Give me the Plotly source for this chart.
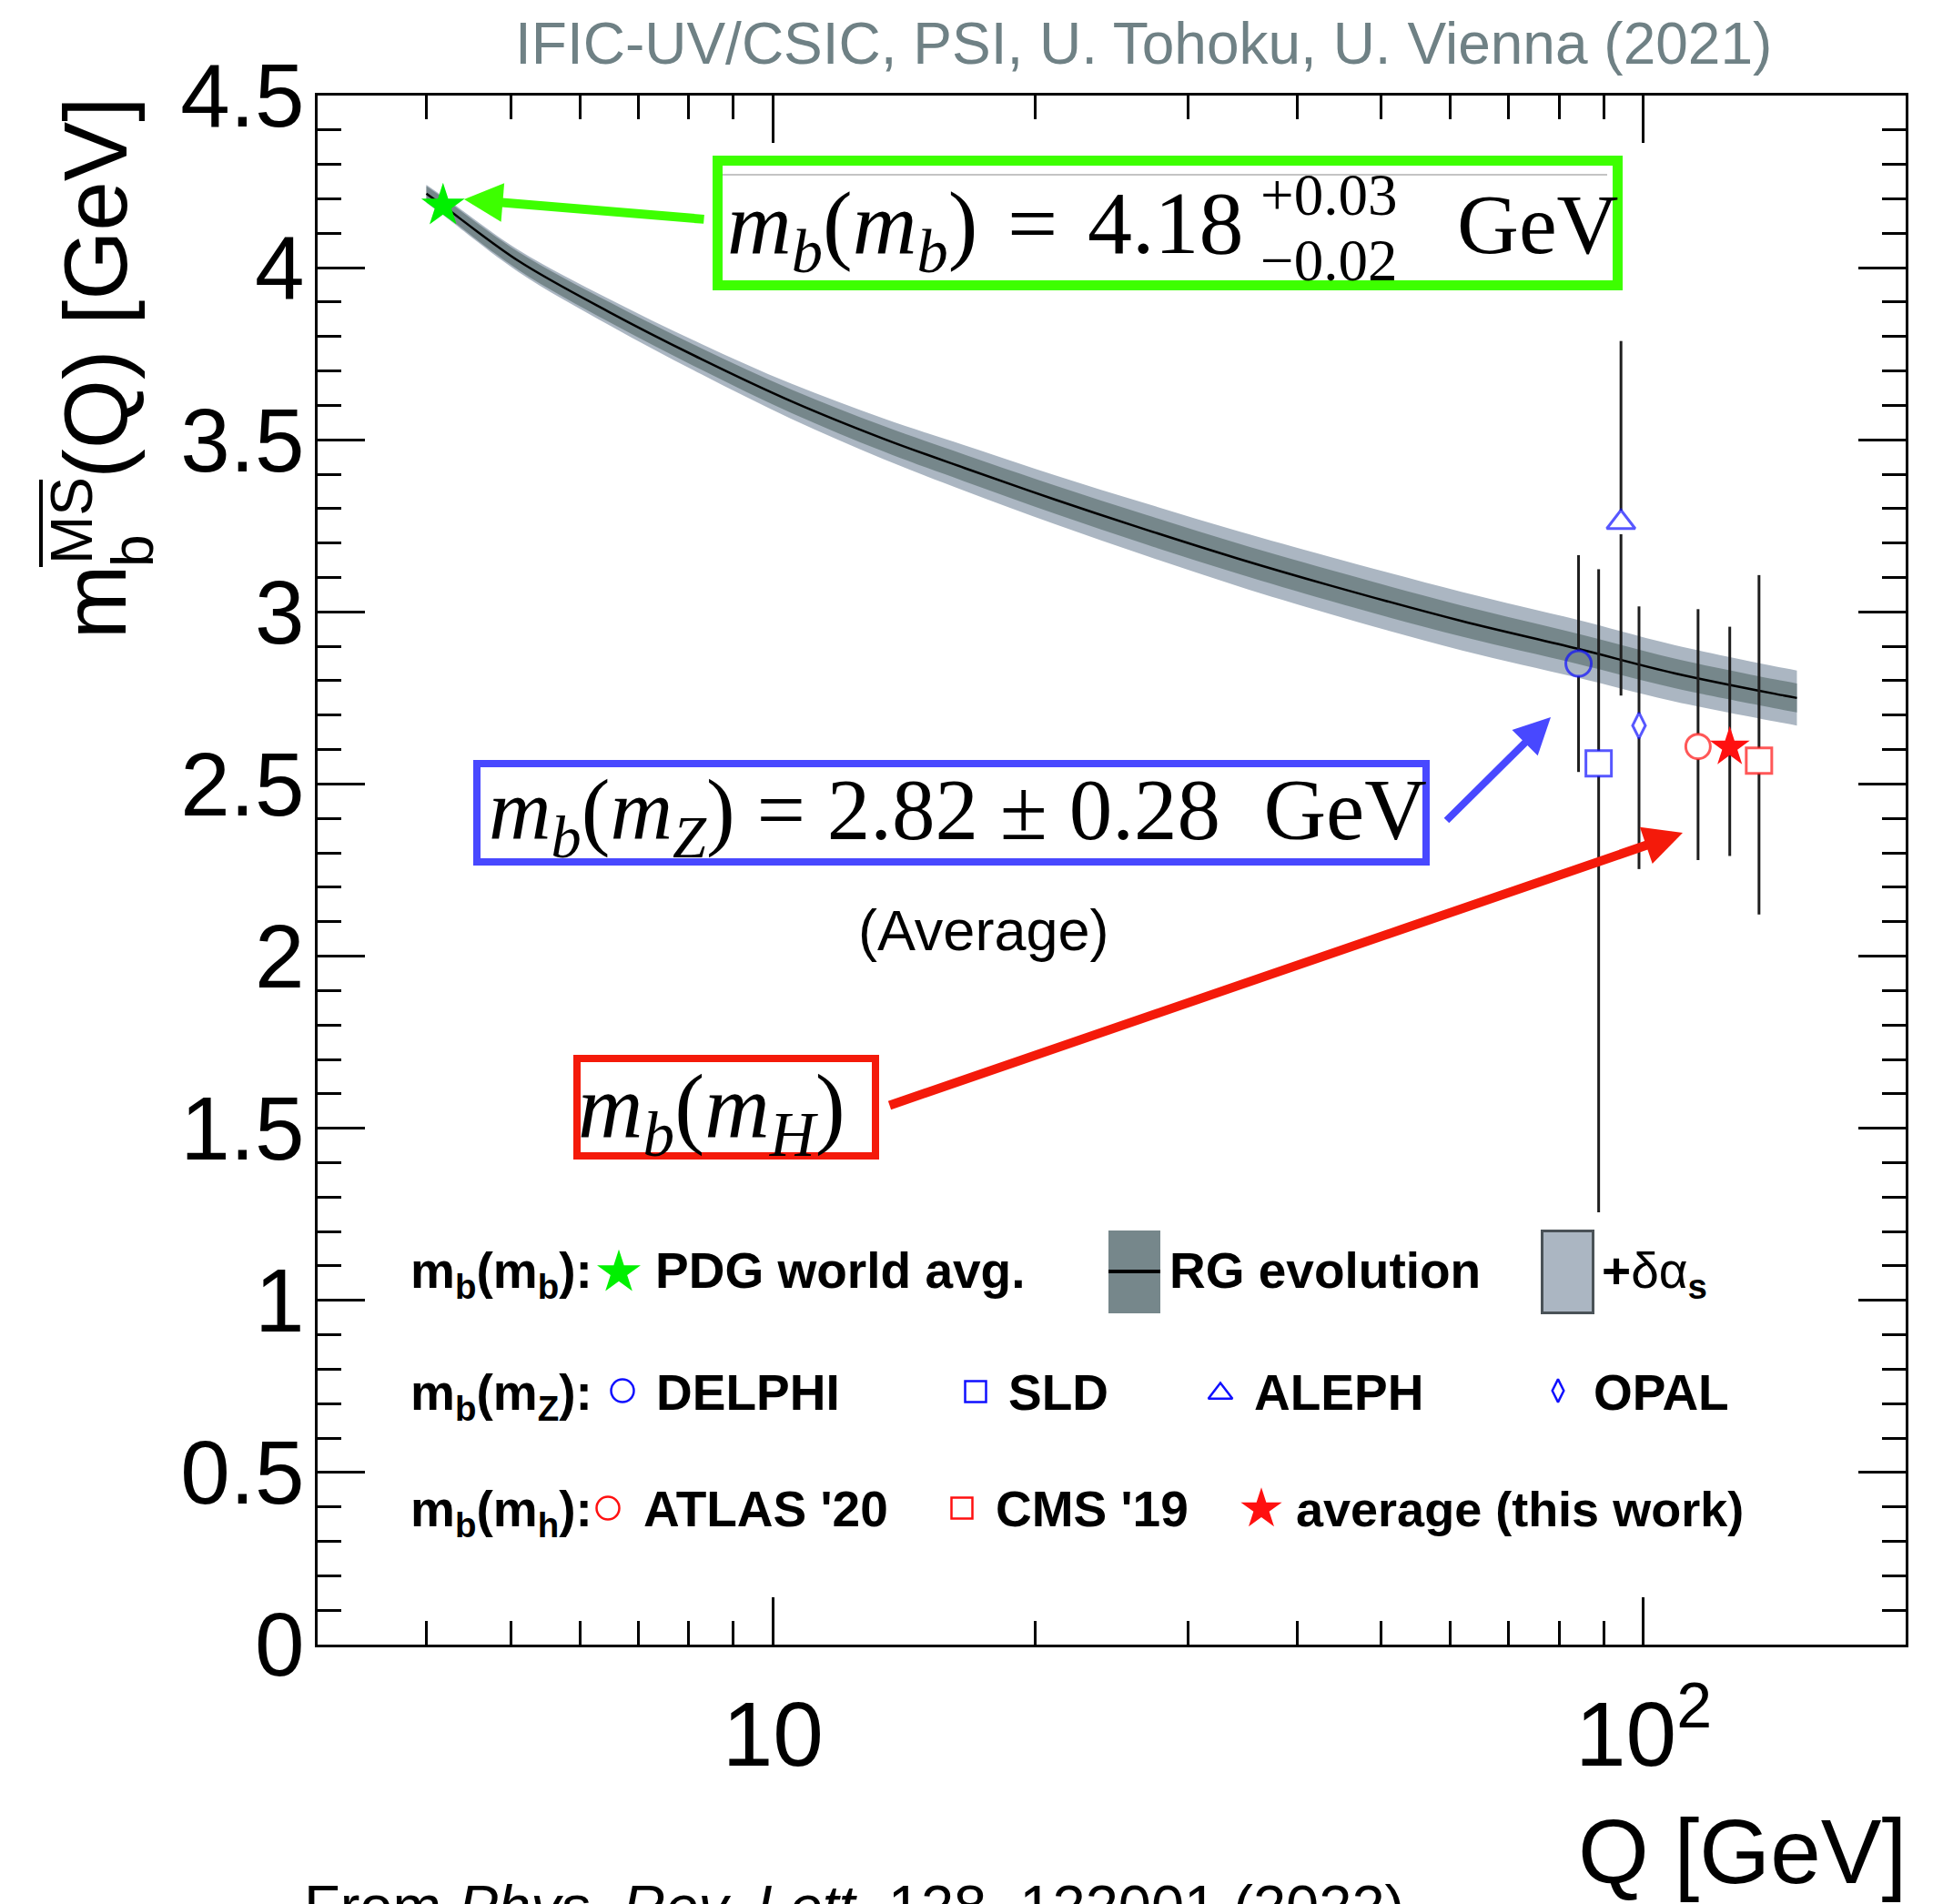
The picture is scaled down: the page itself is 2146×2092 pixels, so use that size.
import math
import plotly.graph_objects as go

# ---------------- data ----------------
# RG evolution of the MS-bar b-quark mass (central curve and band half-widths)
Q_CURVE = [4.0, 4.18, 5.1, 6.5, 8.27, 10.5, 13.4, 16.6, 21.1, 26.9, 34.2, 43.5, 61.9, 84.0, 108.5, 145.0, 150.0]
MB_CURVE = [4.215, 4.180, 4.020, 3.870, 3.735, 3.612, 3.503, 3.418, 3.326, 3.238, 3.155, 3.078, 2.973, 2.893, 2.822, 2.757, 2.750]
RG_HALF = [0.022, 0.023, 0.026, 0.029, 0.031, 0.034, 0.037, 0.039, 0.041, 0.043, 0.044, 0.045, 0.045, 0.044, 0.043, 0.042, 0.042]
AS_HALF = [0.026, 0.027, 0.032, 0.038, 0.044, 0.051, 0.059, 0.066, 0.071, 0.076, 0.080, 0.083, 0.085, 0.084, 0.082, 0.080, 0.080]

# PDG world average m_b(m_b)
PDG_Q = [4.18]
PDG_MB = [4.18]

# m_b(m_Z) determinations
Z_NAMES = ["DELPHI", "SLD", "ALEPH", "OPAL"]
Z_Q = [84.2, 88.8, 94.2, 98.8]
Z_MB = [2.85, 2.56, 3.26, 2.67]
Z_UP = [0.315, 0.564, 0.527, 0.346]
Z_DN = [0.315, 1.304, 0.503, 0.417]

# m_b(m_H) determinations
H_NAMES = ["ATLAS '20", "CMS '19", "average (this work)"]
H_Q = [115.5, 135.7, 125.6]
H_MB = [2.609, 2.568, 2.607]
H_UP = [0.399, 0.539, 0.350]
H_DN = [0.330, 0.447, 0.316]

Y_TICKS = [0, 0.5, 1, 1.5, 2, 2.5, 3, 3.5, 4, 4.5]
X_MAJOR = [10, 100]
X_MAJOR_TEXT = ["10", "10<sup>2</sup>"]
X_MINOR = [4, 5, 6, 7, 8, 9, 20, 30, 40, 50, 60, 70, 80, 90]
X_LIMITS = [3, 200]
Y_LIMITS = [0, 4.5]

TITLE = "IFIC-UV/CSIC, PSI, U. Tohoku, U. Vienna (2021)"

# ---------------- styling / geometry ----------------
W, H = 2146, 2092
PL, PR, PT, PB = 349, 2094, 105, 1807
SANS = "Liberation Sans, Arial, Helvetica, sans-serif"
SERIF = "Liberation Serif, Times New Roman, serif"
GREEN = "#3dff00"
BLUE = "#4848ff"
RED = "#f41a0a"
MBLUE = "#1010ff"
MRED = "#ff1010"
BAND_OUT = "#abb6c2"
BAND_IN = "#76878b"
BAR = "#1e1e1e"


def fx(x):
    return (x - PL) / (PR - PL)


def fy(y):
    return (PB - y) / (PB - PT)


PX_PER_GEV = (PB - PT) / (Y_LIMITS[1] - Y_LIMITS[0])


def bar_segments(qs, vals, ups, dns, gaps_px):
    xs, ys = [], []
    for q, v, u, d, g in zip(qs, vals, ups, dns, gaps_px):
        gap = g / PX_PER_GEV
        xs += [q, q, None, q, q, None]
        ys += [v + u, v + gap, None, v - gap, v - d, None]
    return xs, ys


fig = go.Figure()

# outer band (+ delta alpha_s)
fig.add_trace(go.Scatter(x=Q_CURVE, y=[m - h for m, h in zip(MB_CURVE, AS_HALF)],
                         mode="lines", line=dict(width=0, shape="spline"), hoverinfo="skip"))
fig.add_trace(go.Scatter(x=Q_CURVE, y=[m + h for m, h in zip(MB_CURVE, AS_HALF)],
                         mode="lines", line=dict(width=0, shape="spline"),
                         fill="tonexty", fillcolor=BAND_OUT, hoverinfo="skip"))
# inner band (RG evolution)
fig.add_trace(go.Scatter(x=Q_CURVE, y=[m - h for m, h in zip(MB_CURVE, RG_HALF)],
                         mode="lines", line=dict(width=0, shape="spline"), hoverinfo="skip"))
fig.add_trace(go.Scatter(x=Q_CURVE, y=[m + h for m, h in zip(MB_CURVE, RG_HALF)],
                         mode="lines", line=dict(width=0, shape="spline"),
                         fill="tonexty", fillcolor=BAND_IN, hoverinfo="skip"))
# central curve
fig.add_trace(go.Scatter(x=Q_CURVE, y=MB_CURVE, mode="lines",
                         line=dict(color="black", width=2.5, shape="spline")))

# error bars (kept outside the open markers)
zx, zy = bar_segments(Z_Q, Z_MB, Z_UP, Z_DN, [14, 14, 13, 13])
hx, hy = bar_segments(H_Q, H_MB, H_UP, H_DN, [14, 14, 0])
fig.add_trace(go.Scatter(x=zx + hx, y=zy + hy, mode="lines",
                         line=dict(color=BAR, width=3), hoverinfo="skip"))

# markers
fig.add_trace(go.Scatter(x=Z_Q, y=Z_MB, mode="markers", text=Z_NAMES,
                         marker=dict(symbol=["circle-open", "square-open", "triangle-up-open", "diamond-tall-open"],
                                     size=[28, 28, 27, 20], color=MBLUE, line=dict(width=3, color=MBLUE))))
fig.add_trace(go.Scatter(x=H_Q[:2], y=H_MB[:2], mode="markers", text=H_NAMES[:2],
                         marker=dict(symbol=["circle-open", "square-open"], size=[27, 28],
                                     color=MRED, line=dict(width=3, color=MRED))))
fig.add_trace(go.Scatter(x=H_Q[2:], y=H_MB[2:], mode="markers", text=H_NAMES[2:],
                         marker=dict(symbol="star", size=33, color=MRED, line=dict(width=0))))
fig.add_trace(go.Scatter(x=PDG_Q, y=PDG_MB, mode="markers",
                         marker=dict(symbol="star", size=36, color="#00f000", line=dict(width=0))))

# legend markers on an overlay frame spanning the plot area
LEG_MARKERS = [
    (680, 1398, "star", 36, "#00f000", 0),
    (684, 1528, "circle-open", 25, MBLUE, 2.5),
    (1072, 1529, "square-open", 23, MBLUE, 2.5),
    (1341, 1531, "triangle-up-open", 23, MBLUE, 2.5),
    (1712, 1528, "diamond-tall-open", 18, MBLUE, 2.5),
    (668, 1657, "circle-open", 25, MRED, 2.5),
    (1057, 1657, "square-open", 23, MRED, 2.5),
    (1386, 1658, "star", 34, MRED, 0),
]
for (lx, ly, sym, sz, col, lw) in LEG_MARKERS:
    fig.add_trace(go.Scatter(x=[fx(lx)], y=[fy(ly)], xaxis="x2", yaxis="y2", mode="markers",
                             marker=dict(symbol=sym, size=sz, color=col, line=dict(width=lw, color=col)),
                             hoverinfo="skip"))

ann = []


def text_at(txt, x, baseline, size, family=SANS, color="black", anchor="left", asc=0.905):
    ann.append(dict(text=txt, xref="paper", yref="paper", x=fx(x), y=fy(baseline - asc * size),
                    xanchor=anchor, yanchor="top", showarrow=False, borderpad=0,
                    font=dict(family=family, size=size, color=color)))


def serif_at(txt, x, baseline, size):
    text_at(txt, x, baseline, size, family=SERIF, asc=0.891)


def rot_text(txt, baseline_x, start_y, size):
    ann.append(dict(text=txt, xref="paper", yref="paper", x=fx(baseline_x - 0.905 * size), y=fy(start_y),
                    xanchor="left", yanchor="bottom", textangle=-90, showarrow=False, borderpad=0,
                    font=dict(family=SANS, size=size, color="black")))


def arrow(tip, tail, color, width, size):
    ann.append(dict(text="", xref="paper", yref="paper", x=fx(tip[0]), y=fy(tip[1]),
                    ax=tail[0] - tip[0], ay=tail[1] - tip[1], axref="pixel", ayref="pixel",
                    showarrow=True, arrowhead=2, arrowsize=size, arrowwidth=width,
                    arrowcolor=color, standoff=0, startstandoff=0))


# header
text_at(TITLE, 1256, 69, 64, color="#6f8185", anchor="center")

# axis titles
rot_text("(Q) [GeV]", 137, 527, 98)
rot_text("m", 137, 703, 98)
rot_text("b", 167, 624, 64)
rot_text("MS", 100, 621, 64)
text_at("Q [GeV]", 2096, 2068, 100, anchor="right")

# citation line
text_at("From <i>Phys. Rev. Lett.</i> 128, 122001 (2022)", 333, 2116, 65)

# formula boxes
serif_at("<i>m<sub>b</sub></i>(<i>m<sub>b</sub></i>)\u2004=\u20044.18", 798, 277, 98)
serif_at("+0.03", 1384, 235, 65)
serif_at("\u22120.02", 1384, 307, 65)
serif_at("GeV", 1600, 277, 94)
serif_at("<i>m<sub>b</sub></i>(<i>m<sub>Z</sub></i>) = 2.82 \u00b1 0.28  GeV", 536, 921, 95)
serif_at("<i>m<sub>b</sub></i>(<i>m<sub>H</sub></i>)", 634, 1248, 99)
text_at("(Average)", 1080, 1043, 63, anchor="center")

arrow((510, 219), (775, 241), GREEN, 10, 0.85)
arrow((1704, 788), (1588, 903), BLUE, 8, 1.0)
arrow((1849, 915), (976, 1215), RED, 10, 0.85)

# legend text
LEG = 55
text_at("<b>m<sub>b</sub>(m<sub>b</sub>):</b>", 450, 1414, LEG)
text_at("<b>PDG world avg.</b>", 719, 1414, LEG)
text_at("<b>RG evolution</b>", 1284, 1414, LEG)
text_at("<b>+</b>\u03b4\u03b1<sub><b>s</b></sub>", 1759, 1414, LEG)
text_at("<b>m<sub>b</sub>(m<sub>Z</sub>):</b>", 450, 1548, LEG)
text_at("<b>DELPHI</b>", 720, 1548, LEG)
text_at("<b>SLD</b>", 1107, 1548, LEG)
text_at("<b>ALEPH</b>", 1377, 1548, LEG)
text_at("<b>OPAL</b>", 1750, 1548, LEG)
text_at("<b>m<sub>b</sub>(m<sub>h</sub>):</b>", 450, 1676, LEG)
text_at("<b>ATLAS '20</b>", 706, 1676, LEG)
text_at("<b>CMS '19</b>", 1093, 1676, LEG)
text_at("<b>average (this work)</b>", 1423, 1676, 54)

shapes = []


def rect(x0, y0, x1, y1, line_color=None, line_width=0, fill=None):
    d = dict(type="rect", xref="paper", yref="paper", x0=fx(x0), x1=fx(x1), y0=fy(y1), y1=fy(y0),
             line=dict(color=line_color or "rgba(0,0,0,0)", width=line_width))
    if fill:
        d["fillcolor"] = fill
    shapes.append(d)


def seg(x0, y0, x1, y1, color, width):
    shapes.append(dict(type="line", xref="paper", yref="paper", x0=fx(x0), x1=fx(x1), y0=fy(y0), y1=fy(y1),
                       line=dict(color=color, width=width)))


# formula frames
rect(788.5, 176.5, 1777.5, 313.5, GREEN, 11)
seg(794, 192, 1766, 192, "#c4c4c4", 2)
rect(524, 839, 1567, 947, BLUE, 8)
rect(634, 1163, 962, 1270, RED, 8)
# overline on MS
seg(45, 527, 45, 623, "black", 4)
# legend band swatches
rect(1218, 1352, 1275, 1443, fill=BAND_IN)
seg(1218, 1397, 1275, 1397, "black", 4)
rect(1694.5, 1352.5, 1750.5, 1442.5, "#4a5257", 3, BAND_OUT)

fig.update_layout(
    width=W, height=H, autosize=False,
    margin=dict(l=PL, r=W - PR, t=PT, b=H - PB, pad=0),
    paper_bgcolor="white", plot_bgcolor="white",
    showlegend=False,
    annotations=ann, shapes=shapes,
    xaxis=dict(type="log", range=[math.log10(X_LIMITS[0]), math.log10(X_LIMITS[1])],
               tickmode="array", tickvals=X_MAJOR, ticktext=X_MAJOR_TEXT,
               ticks="inside", ticklen=52, tickwidth=2.5, tickcolor="black",
               minor=dict(tickmode="array", tickvals=X_MINOR, ticks="inside", ticklen=26,
                          tickwidth=2.5, tickcolor="black", showgrid=False),
               showline=True, linewidth=3, linecolor="black", mirror="ticks",
               showgrid=False, zeroline=False, ticklabelstandoff=10,
               tickfont=dict(family=SANS, size=100, color="black")),
    yaxis=dict(range=Y_LIMITS, tickmode="array", tickvals=Y_TICKS,
               ticks="inside", ticklen=52, tickwidth=2.5, tickcolor="black",
               minor=dict(dtick=0.1, tick0=0, ticks="inside", ticklen=26, tickwidth=2.5,
                          tickcolor="black", showgrid=False),
               showline=True, linewidth=3, linecolor="black", mirror="ticks",
               showgrid=False, zeroline=False, ticklabelstandoff=-8,
               tickfont=dict(family=SANS, size=98, color="black")),
    xaxis2=dict(overlaying="x", range=[0, 1], visible=False),
    yaxis2=dict(overlaying="y", range=[0, 1], visible=False),
)

fig.write_html("out.html")
